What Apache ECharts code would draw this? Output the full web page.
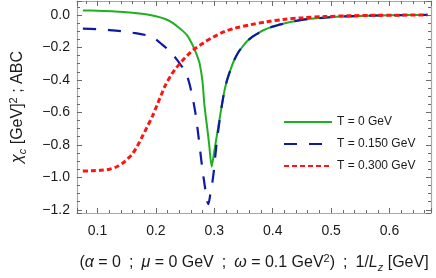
<!DOCTYPE html>
<html><head><meta charset="utf-8">
<script src="https://cdn.jsdelivr.net/npm/echarts@6/dist/echarts.min.js"></script>
<style>html,body{margin:0;padding:0;background:#fff}#c{width:436px;height:278px}</style>
</head><body><div id="c"></div>
<script>
const seriesNames = ['T = 0 GeV', 'T = 0.150 GeV', 'T = 0.300 GeV'];

const t0Data = [[0.075,0.028],[0.10,0.026],[0.13,0.022],[0.16,0.014],[0.18,0.006],[0.20,-0.008],[0.216,-0.025],[0.228,-0.047],[0.238,-0.074],[0.246,-0.098],[0.253,-0.123],[0.260,-0.165],[0.266,-0.21],[0.271,-0.255],[0.275,-0.30],[0.280,-0.415],[0.283,-0.552],[0.287,-0.67],[0.291,-0.79],[0.2955,-0.935],[0.300,-0.84],[0.305,-0.73],[0.310,-0.62],[0.317,-0.474],[0.322,-0.40],[0.328,-0.335],[0.334,-0.279],[0.342,-0.225],[0.350,-0.188],[0.356,-0.162],[0.365,-0.135],[0.375,-0.113],[0.384,-0.094],[0.400,-0.072],[0.418,-0.054],[0.435,-0.040],[0.452,-0.029],[0.480,-0.019],[0.518,-0.010],[0.560,-0.005],[0.602,-0.002],[0.665,0.000]];

const t150Data = [[0.075,-0.084],[0.10,-0.088],[0.12,-0.093],[0.143,-0.101],[0.165,-0.112],[0.186,-0.127],[0.200,-0.15],[0.210,-0.18],[0.220,-0.21],[0.228,-0.24],[0.236,-0.275],[0.241,-0.30],[0.247,-0.33],[0.253,-0.37],[0.258,-0.43],[0.263,-0.51],[0.268,-0.61],[0.272,-0.72],[0.276,-0.84],[0.280,-0.96],[0.284,-1.06],[0.288,-1.15],[0.290,-1.165],[0.293,-1.11],[0.296,-1.05],[0.299,-0.97],[0.302,-0.86],[0.305,-0.76],[0.308,-0.68],[0.311,-0.60],[0.317,-0.474],[0.322,-0.40],[0.328,-0.335],[0.334,-0.279],[0.342,-0.225],[0.350,-0.188],[0.356,-0.162],[0.365,-0.135],[0.375,-0.113],[0.384,-0.094],[0.400,-0.072],[0.418,-0.054],[0.435,-0.040],[0.452,-0.029],[0.480,-0.019],[0.518,-0.010],[0.560,-0.005],[0.602,-0.002],[0.665,0.000]];

const t300Data = [[0.075,-0.962],[0.09,-0.960],[0.105,-0.957],[0.121,-0.950],[0.133,-0.935],[0.143,-0.913],[0.152,-0.885],[0.160,-0.855],[0.168,-0.81],[0.177,-0.747],[0.185,-0.69],[0.194,-0.625],[0.202,-0.555],[0.209,-0.495],[0.216,-0.435],[0.227,-0.365],[0.234,-0.33],[0.241,-0.30],[0.250,-0.263],[0.258,-0.235],[0.266,-0.21],[0.275,-0.188],[0.283,-0.168],[0.300,-0.133],[0.317,-0.103],[0.335,-0.082],[0.362,-0.060],[0.390,-0.042],[0.418,-0.028],[0.450,-0.018],[0.490,-0.010],[0.530,-0.005],[0.574,-0.002],[0.620,-0.001],[0.665,0.000]];

const xTicks = [0.1, 0.2, 0.3, 0.4, 0.5, 0.6];
const yTicks = [0.0, -0.2, -0.4, -0.6, -0.8, -1.0, -1.2];

const X_MIN = 0.065, X_MAX = 0.671, Y_MIN = -1.22, Y_MAX = 0.086;
const FONT = '"Liberation Sans", Arial, sans-serif';
const FRAME = '#a8a8a8';
const TICK = '#6a6a6a';
const TXT = '#1a1a1a';

function fmtX(v) {
  const t = xTicks.find(t => Math.abs(t - v) < 1e-6);
  return t === undefined ? '' : t.toFixed(1);
}
function fmtY(v) {
  const t = yTicks.find(t => Math.abs(t - v) < 1e-6);
  if (t === undefined) return '';
  return (t < -1e-9 ? '\u2212' : '') + Math.abs(t).toFixed(1);
}

const richStyles = {
  n: { fontSize: 16, fontFamily: FONT, color: TXT, lineHeight: 20 },
  i: { fontSize: 16, fontFamily: FONT, color: TXT, fontStyle: 'italic', lineHeight: 20 },
  sub: { fontSize: 11, fontFamily: FONT, color: TXT, fontStyle: 'italic', verticalAlign: 'bottom', lineHeight: 11 },
  sup: { fontSize: 11, fontFamily: FONT, color: TXT, verticalAlign: 'top', lineHeight: 11 }
};

function xAxisDef(pos, major, withLine, withLabels, extra) {
  return Object.assign({
    type: 'value', position: pos, min: X_MIN, max: X_MAX,
    splitNumber: major ? 6 : 30,
    axisLine: { show: withLine, onZero: false, lineStyle: { color: FRAME, width: 1.2 } },
    axisTick: { show: true, inside: true, length: major ? 5 : 3, lineStyle: { color: TICK, width: 1 } },
    axisLabel: withLabels ? { show: true, formatter: fmtX, margin: 11, fontSize: 14, fontFamily: FONT, color: TXT, showMinLabel: true, showMaxLabel: true } : { show: false },
    splitLine: { show: false }
  }, extra || {});
}
function yAxisDef(pos, major, withLine, withLabels, extra) {
  return Object.assign({
    type: 'value', position: pos, min: Y_MIN, max: Y_MAX,
    splitNumber: major ? 7 : 26,
    axisLine: { show: withLine, onZero: false, lineStyle: { color: FRAME, width: 1.2 } },
    axisTick: { show: true, inside: true, length: major ? 5 : 3, lineStyle: { color: TICK, width: 1 } },
    axisLabel: withLabels ? { show: true, formatter: fmtY, margin: 7, fontSize: 14, fontFamily: FONT, color: TXT } : { show: false },
    splitLine: { show: false }
  }, extra || {});
}

const chart = echarts.init(document.getElementById('c'), null, { renderer: 'canvas' });
chart.setOption({
  animation: false,
  backgroundColor: '#fff',
  grid: { left: 70, right: 5, top: 1, bottom: 54, containLabel: false },
  xAxis: [
    xAxisDef('bottom', false, true, false, {
      name: '{n|(}{i|α}{n| = 0\u2002;\u2002}{i|μ}{n| = 0 GeV\u2002;\u2002}{i|ω}{n| = 0.1 GeV}{sup|2}{n|)\u2002;\u20021/}{i|L}{sub|z}{n| [GeV]}',
      nameLocation: 'middle', nameGap: 40,
      nameTextStyle: { fontSize: 16, fontFamily: FONT, color: TXT, rich: richStyles }
    }),
    xAxisDef('bottom', true, false, true),
    xAxisDef('top', false, true, false),
    xAxisDef('top', true, false, false)
  ],
  yAxis: [
    yAxisDef('left', false, true, false, {
      name: '{i|χ}{sub|c}{n| [GeV]}{sup|2}{n| ; ABC}',
      nameLocation: 'middle', nameGap: 49, nameRotate: 90,
      nameTextStyle: { fontSize: 16, fontFamily: FONT, color: TXT, rich: richStyles }
    }),
    yAxisDef('left', true, false, true),
    yAxisDef('right', false, true, false),
    yAxisDef('right', true, false, false)
  ],
  legend: {
    orient: 'vertical', left: 278, top: 111,
    itemWidth: 48, itemHeight: 14, itemGap: 10,
    data: seriesNames,
    itemStyle: { opacity: 0 },
    textStyle: { fontSize: 12, fontFamily: FONT, color: TXT },
    selectedMode: false
  },
  series: [
    { name: seriesNames[0], type: 'line', data: t0Data, xAxisIndex: 0, yAxisIndex: 0, symbol: 'none', showSymbol: false, smooth: 0.2, z: 2,
      lineStyle: { color: '#1fb01f', width: 2 }, itemStyle: { color: '#1fb01f' } },
    { name: seriesNames[1], type: 'line', data: t150Data, xAxisIndex: 0, yAxisIndex: 0, symbol: 'none', showSymbol: false, smooth: 0.2, z: 3,
      lineStyle: { color: '#0d1aa3', width: 2.2, type: [13, 12] }, itemStyle: { color: '#0d1aa3' } },
    { name: seriesNames[2], type: 'line', data: t300Data, xAxisIndex: 0, yAxisIndex: 0, symbol: 'none', showSymbol: false, smooth: 0.3, z: 4,
      lineStyle: { color: '#ff1414', width: 3, type: [5, 3] }, itemStyle: { color: '#ff1414' } }
  ]
});
</script>
</body></html>
